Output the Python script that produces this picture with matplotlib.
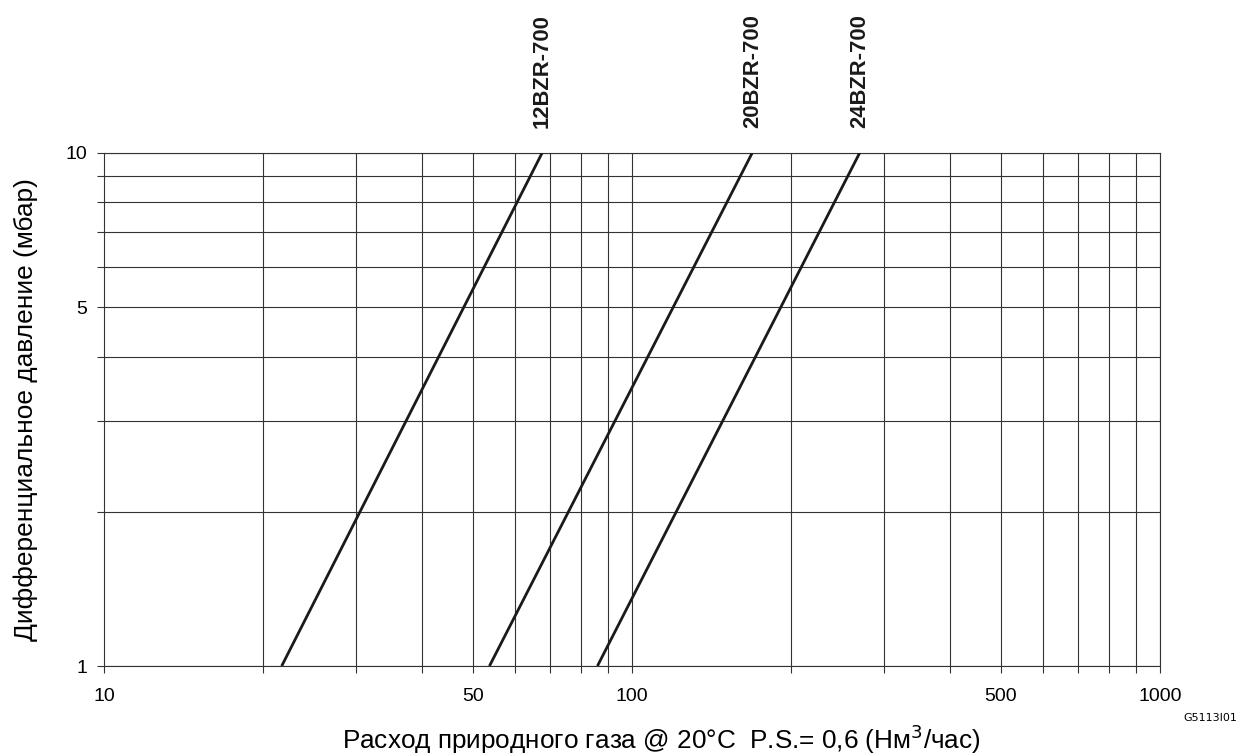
import matplotlib
matplotlib.use("Agg")
import matplotlib.pyplot as plt
from matplotlib.ticker import FixedLocator, NullLocator

plt.rcParams['font.family'] = ['Liberation Sans', 'DejaVu Sans']

# flow (Nm3/h) at dp = 1 and 10 mbar for each model
models = ["12BZR-700", "20BZR-700", "24BZR-700"]
flow_at_1 = [21.7, 53.7, 86.0]
flow_at_10 = [67.6, 169.0, 270.0]
pressure = [1, 10]

x_grid = [20, 30, 40, 50, 60, 70, 80, 90, 100, 200, 300, 400, 500, 600, 700, 800, 900, 1000]
y_grid = [1, 2, 3, 4, 5, 6, 7, 8, 9, 10]
x_labels = [10, 50, 100, 500, 1000]
y_labels = [1, 5, 10]

fig = plt.figure(figsize=(12.43, 7.56), dpi=100)
ax = fig.add_axes([0.0837, 0.119, 0.8495, 0.679])
ax.set_xscale('log')
ax.set_yscale('log')
ax.set_xlim(10, 1000)
ax.set_ylim(1, 10)

grid_col = '#333333'
for x in x_grid:
    ax.axvline(x, color=grid_col, lw=0.8, zorder=1)
for y in y_grid:
    ax.axhline(y, color=grid_col, lw=0.8, zorder=1)

for name, f1, f10 in zip(models, flow_at_1, flow_at_10):
    ax.plot([f1, f10], pressure, color='#1a1a1a', lw=2.0, zorder=3, solid_capstyle='butt')
    ax.text(f10, 1.049, name, transform=ax.get_xaxis_transform(), rotation=90,
            ha='center', va='bottom', fontsize=15.8, fontweight='bold', color='#1a1a1a')

ax.xaxis.set_major_locator(FixedLocator([10] + x_grid))
ax.xaxis.set_minor_locator(NullLocator())
ax.yaxis.set_major_locator(FixedLocator(y_grid))
ax.yaxis.set_minor_locator(NullLocator())
ax.set_xticklabels([str(v) if v in x_labels else '' for v in [10] + x_grid])
ax.set_yticklabels([str(v) if v in y_labels else '' for v in y_grid])
ax.tick_params(axis='both', length=5, width=0.8, color=grid_col, labelsize=14, pad=7)
ax.tick_params(axis='x', pad=11)

for s in ax.spines.values():
    s.set_color(grid_col)
    s.set_linewidth(0.8)

ax.set_xlabel('Расход природного газа @ 20°C  P.S.= 0,6 (Нм$^{3}$/час)', fontsize=18.8)
ax.xaxis.set_label_coords(0.528, -0.143)
ax.xaxis.label.set_va('center')
ax.set_ylabel('Дифференциальное давление (мбар)', fontsize=18.9, labelpad=20)

fig.text(0.995, 0.05, 'G5113I01', ha='right', va='center', fontsize=8,
         family=['Liberation Sans Narrow', 'DejaVu Sans'])

fig.savefig('out.png', dpi=100)
